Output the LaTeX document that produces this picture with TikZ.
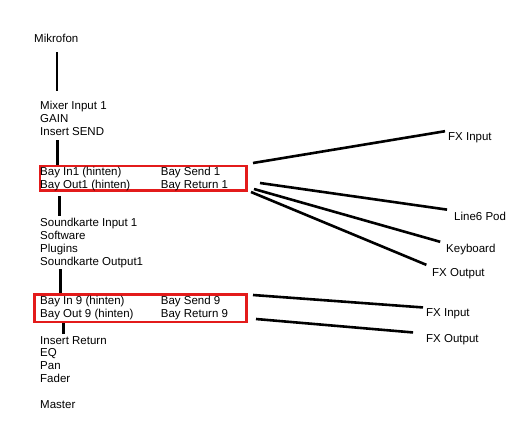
\documentclass[tikz,border=0pt]{standalone}
\usepackage{fontspec}
\setmainfont{Liberation Sans}
\usetikzlibrary{positioning}
\definecolor{bayred}{HTML}{E31B1B}

\begin{document}
\begin{tikzpicture}[
  x=1pt, y=-1pt,
  font=\fontsize{11.5}{12.9}\selectfont,
  lbl/.style={anchor=base west, align=left, inner sep=0pt},
  tag/.style={anchor=base west, inner sep=1pt},
  bay/.style={draw=bayred, line width=2.8pt, inner sep=0pt, anchor=north west},
  wire/.style={draw=black, line width=2.6pt},
]
\useasboundingbox (0,0) rectangle (510,421);
\coordinate (spine) at (57,0);

% signal chain on the left (base = last line)
\node[tag] (mic) at (33,42.7) {Mikrofon};
\node[lbl] (mixer) at (40,135) {Mixer Input 1\\ GAIN\\ Insert SEND};

\node[bay, minimum width=206.5pt, minimum height=24.5pt] (bay1) at (38.5,164.5) {};
\node[lbl] (in1) at (40,188) {Bay In1 (hinten)\\ Bay Out1 (hinten)};
\node[lbl] (send1) at (160.7,188) {Bay Send 1\\ Bay Return 1};

\node[lbl] (sound) at (40,265)
  {Soundkarte Input 1\\ Software\\ Plugins\\ Soundkarte Output1};

\node[bay, minimum width=212pt, minimum height=27.5pt] (bay2) at (33,293) {};
\node[lbl] (in9) at (40,317) {Bay In 9 (hinten)\\ Bay Out 9 (hinten)};
\node[lbl] (send9) at (160.7,317) {Bay Send 9\\ Bay Return 9};

\node[lbl] (chan) at (40,382.7) {Insert Return\\ EQ\\ Pan\\ Fader};
\node[lbl] (master) at (40,408.7) {Master};

\draw[wire, shorten <=8.3pt, shorten >=9.7pt] (mic.south -| spine) -- (mixer.north -| spine);
\draw[wire, shorten <=5pt] ([xshift=0.7pt]mixer.south -| spine) -- ([xshift=0.7pt]bay1.north -| spine);
\draw[wire, shorten <=4pt, shorten >=1.7pt] ([xshift=2.3pt]bay1.south -| spine) -- ([xshift=2.3pt]sound.north -| spine);
\draw[wire, shorten <=1.5pt] ([xshift=3.3pt]sound.south -| spine) -- ([xshift=3.3pt]bay2.north -| spine);
\draw[wire, shorten >=1.7pt] ([xshift=6.3pt]bay2.south -| spine) -- ([xshift=6.3pt]chan.north -| spine);

% patchbay outlets on the right
\coordinate (s1a) at (253,163);
\coordinate (s1b) at (260,183);
\coordinate (s1c) at (254,189);
\coordinate (s1d) at (251,192);
\coordinate (s9a) at (253,295);
\coordinate (s9b) at (256,319);

\node[tag] (fxin1) at (447,140) {FX Input};
\node[tag] (pod) at (453,220) {Line6 Pod};
\node[tag] (keys) at (445,252.7) {Keyboard};
\node[tag] (fxout1) at (431,276) {FX Output};
\node[tag] (fxin9) at (425,316.7) {FX Input};
\node[tag] (fxout9) at (425,342.7) {FX Output};

\draw[wire, shorten >=2pt] (s1a) -- (fxin1.north west);
\draw[wire, shorten >=6pt] (s1b) -- (pod.north west);
\draw[wire, shorten >=5pt] (s1c) -- (keys.north west);
\draw[wire, shorten >=5pt] (s1d) -- (fxout1.north west);
\draw[wire, shorten >=2pt] (s9a) -- (fxin9.north west);
\draw[wire, shorten >=12pt] (s9b) -- (fxout9.north west);
\end{tikzpicture}
\end{document}
